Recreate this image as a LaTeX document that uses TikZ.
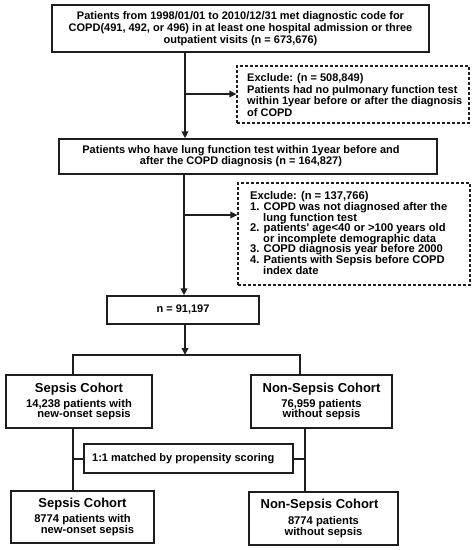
\documentclass[tikz,border=0pt]{standalone}
\usepackage{fontspec}
\setmainfont{Liberation Sans}
\usetikzlibrary{arrows.meta}
\definecolor{ink}{HTML}{1E1E1E}
\newcommand\hdfont{\fontsize{13}{14}\selectfont}
\begin{document}
\begin{tikzpicture}[x=1pt,y=-1pt,
  box/.style={draw=ink, line width=1.3pt, inner sep=0pt, align=center},
  dbox/.style={draw=ink, line width=1.1pt, dash pattern=on 3pt off 2pt, inner sep=0pt},
  txt/.style={font=\bfseries\fontsize{11}{12.3}\selectfont, inner sep=0pt, text=black},
  etxt/.style={font=\bfseries\fontsize{11}{11.8}\selectfont, inner sep=0pt, text=black},
  tight/.style={font=\bfseries\fontsize{11.2}{10.6}\selectfont, inner sep=0pt, text=black},
  conn/.style={draw=ink, line width=1.8pt, line join=miter},
  arr/.style={conn, -{Triangle[length=7pt,width=6.5pt]}}]
\useasboundingbox (0,0) rectangle (476,550);

% main boxes
\node[box, txt, minimum width=377pt, minimum height=47pt] (b1) at (240.5,28.5)
  {Patients from 1998/01/01 to 2010/12/31 met diagnostic code for\\
   COPD(491, 492, or 496) in at least one hospital admission or three\\
   outpatient visits (n = 673,676)};

\node[box, minimum width=378pt, minimum height=35pt] (b2) at (248,156.5) {};
\node[txt, align=center, font=\bfseries\fontsize{11}{11}\selectfont] (b2t) at (241,156)
  {Patients who have lung function test within 1year before and\\
   after the COPD diagnosis (n = 164,827)};

\node[box, txt, minimum width=152pt, minimum height=28pt] (n) at (183,310) {n = 91,197};

% exclusion boxes
\node[dbox, minimum width=232pt, minimum height=57pt] (e1) at (353,94.5) {};
\node[etxt, align=left, anchor=west] (e1t) at (247,95)
  {Exclude: (n = 508,849)\\
   Patients had no pulmonary function test\\
   within 1year before or after the diagnosis\\
   of COPD};

\node[dbox, minimum width=232pt, minimum height=102pt] (e2) at (354,234) {};
\node[tight, align=left, anchor=west] (e2t) at (250,233)
  {Exclude: (n = 137,766)\\
   1. COPD was not diagnosed after the\\
   \hspace*{13pt}lung function test\\
   2. patients\textquotesingle{} age<40 or >100 years old\\
   \hspace*{13pt}or incomplete demographic data\\
   3. COPD diagnosis year before 2000\\
   4. Patients with Sepsis before COPD\\
   \hspace*{13pt}index date};

% cohorts
\node[box, tight, minimum width=146pt, minimum height=53pt] (s1) at (79,401.5)
  {{\hdfont Sepsis Cohort}\\[3pt]
   14,238 patients with\\
   \hspace*{10pt}new-onset sepsis};
\node[box, tight, minimum width=141pt, minimum height=53pt] (ns1) at (321.5,401.5)
  {{\hdfont Non-Sepsis Cohort}\\[3pt]
   76,959 patients\\
   without sepsis};

\node[box, txt, minimum width=209pt, minimum height=29pt] (m) at (188.5,458.5) {};
\node[txt, anchor=west] (mt) at (92,458.5) {1:1 matched by propensity scoring};

\node[box, tight, minimum width=143pt, minimum height=52pt] (s2) at (82.5,517)
  {{\hdfont Sepsis Cohort}\\[3pt]
   8774 patients with\\
   \hspace*{10pt}new-onset sepsis};
\node[box, tight, minimum width=149pt, minimum height=53pt] (ns2) at (323.5,518.5)
  {{\hdfont Non-Sepsis Cohort}\hspace*{8pt}\\[4pt]
   8774 patients\\
   without sepsis};

% connectors
\coordinate (c1) at (185,94);
\coordinate (c2) at (184,215);
\coordinate (sp) at (185,355);
\coordinate (sl) at (73,355);
\coordinate (sr) at (300,355);
\coordinate (vl) at (73,459);
\coordinate (vr) at (305,459);

\draw[arr] (b1.south -| c1) -- (b2.north -| c1);
\draw[arr] (c1) -- (c1 -| e1.west);
\draw[arr] (b2.south -| c2) -- (n.north -| c2);
\draw[arr] (c2) -- (c2 -| e2.west);
\draw[arr] (n.south -| sp) -- (sp);
\draw[conn] (s1.north -| sl) -- (sl) -- (sr) -- (ns1.north -| sr);
\draw[conn] (s1.south -| vl) -- (s2.north -| vl);
\draw[conn] (ns1.south -| vr) -- (ns2.north -| vr);
\draw[conn] (vl) -- (vl -| m.west);
\draw[conn] (vr) -- (vr -| m.east);
\end{tikzpicture}
\end{document}
